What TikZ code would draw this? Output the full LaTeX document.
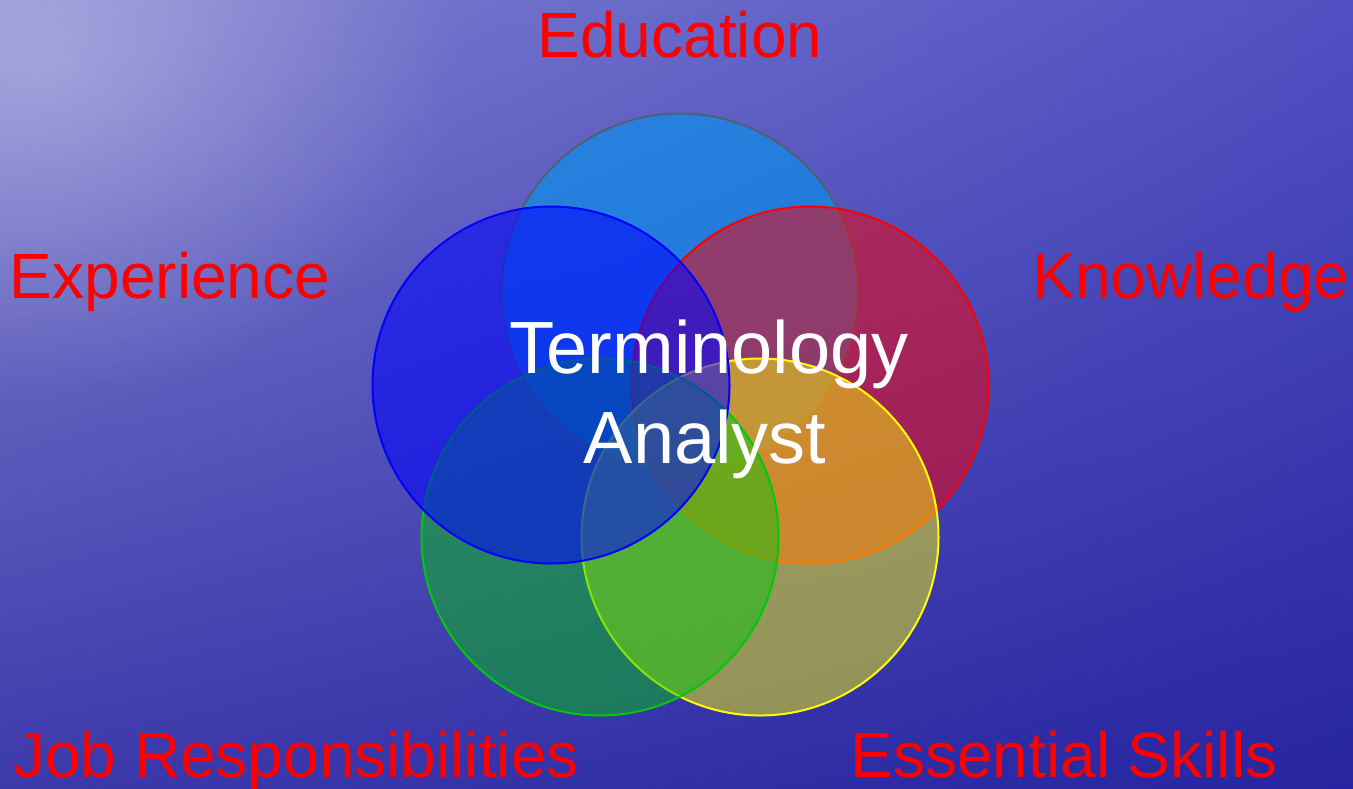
\documentclass[tikz,border=0pt]{standalone}
\usepackage{fontspec}
\setmainfont{Liberation Sans}
\usetikzlibrary{fadings,shadings}

\definecolor{seaul}{RGB}{130,130,208}
\definecolor{seaur}{RGB}{80,80,194}
\definecolor{seall}{RGB}{60,58,170}
\definecolor{sealr}{RGB}{38,36,160}
\definecolor{labelred}{RGB}{255,0,0}
\definecolor{edublue}{RGB}{0,150,240}
\definecolor{edurim}{RGB}{80,96,112}
\definecolor{expblue}{RGB}{0,0,255}
\definecolor{knowred}{RGB}{255,0,0}
\definecolor{jobgreen}{RGB}{0,200,10}
\definecolor{skillyellow}{RGB}{255,255,0}

\tikzfading[name=glowfade, inner color=transparent!0, outer color=transparent!100]

\begin{document}
\begin{tikzpicture}[x=0.5pt,y=-0.5pt,
    ring/.style={circle,minimum size=178.5pt,inner sep=0pt,line width=1pt},
    tag/.style={anchor=base,inner sep=0pt,text=labelred,font=\fontsize{32}{38}\selectfont},
    hub/.style={anchor=base,inner sep=0pt,text=white,font=\fontsize{37}{45}\selectfont}]

    \useasboundingbox (0,0) rectangle (1353,788);
    \begin{scope}
        \clip (0,0) rectangle (1353,788);
        \shade[upper left=seaul,upper right=seaur,lower left=seall,lower right=sealr] (0,0) rectangle (1353,788);
        \fill[white,opacity=0.3,path fading=glowfade] (40,60) ellipse (420 and 340);
    \end{scope}

    \node[ring,fill=edublue,draw=edurim,fill opacity=0.6]        (edu)    at (680,292) {};
    \node[ring,fill=knowred,draw=knowred,fill opacity=0.5]       (know)   at (810,385) {};
    \node[ring,fill=skillyellow,draw=skillyellow,fill opacity=0.47] (skill) at (760,537) {};
    \node[ring,fill=jobgreen,draw=jobgreen,fill opacity=0.47]    (job)    at (600,537) {};
    \node[ring,fill=expblue,draw=expblue,fill opacity=0.55]      (exp)    at (551,385) {};

    \node[tag] (edutext)   at (680,57)  {Education};
    \node[tag] (exptext)   at (170,298) {Experience};
    \node[tag] (knowtext)  at (1191,298) {Knowledge};
    \node[tag] (jobtext)   at (296,777) {Job Responsibilities};
    \node[tag] (skilltext) at (1064,777) {Essential Skills};

    \node[hub] (hub1) at (709,373) {Terminology};
    \node[hub] (hub2) at (705,463) {Analyst};
\end{tikzpicture}
\end{document}
